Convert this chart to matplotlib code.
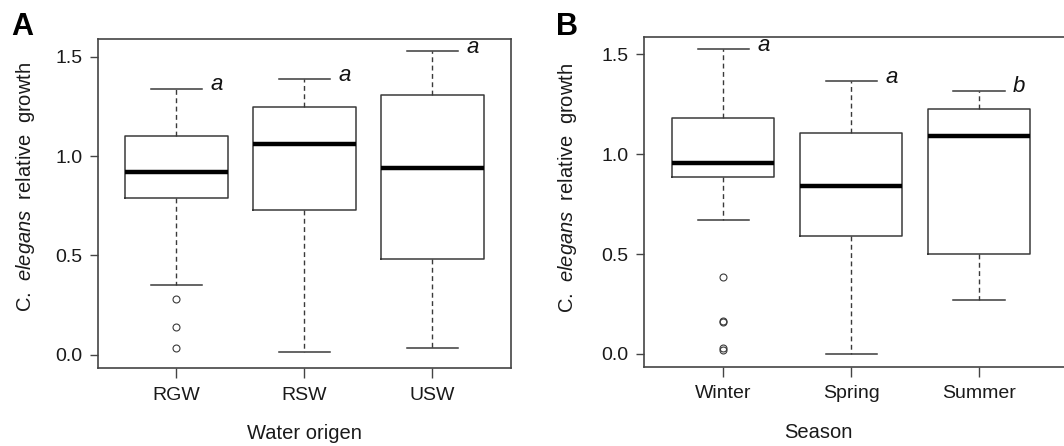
import matplotlib
matplotlib.use('Agg')
import matplotlib.pyplot as plt

plt.rcParams['font.family'] = ['Liberation Sans', 'DejaVu Sans']
plt.rcParams['mathtext.fontset'] = 'custom'
plt.rcParams['mathtext.rm'] = 'Liberation Sans'
plt.rcParams['mathtext.it'] = 'Liberation Sans:italic'

# panel A - water origin
originLabels = ['RGW', 'RSW', 'USW']
originLowWhisker = [0.352, 0.012, 0.035]
originQ1 = [0.787, 0.728, 0.482]
originMedian = [0.921, 1.059, 0.940]
originQ3 = [1.101, 1.248, 1.309]
originHighWhisker = [1.339, 1.386, 1.527]
originOutliers = [[0.282, 0.138, 0.032], [], []]
originLetters = ['a', 'a', 'a']

# panel B - season
seasonLabels = ['Winter', 'Spring', 'Summer']
seasonLowWhisker = [0.669, 0.0, 0.270]
seasonQ1 = [0.888, 0.591, 0.500]
seasonMedian = [0.956, 0.839, 1.090]
seasonQ3 = [1.180, 1.105, 1.228]
seasonHighWhisker = [1.525, 1.365, 1.318]
seasonOutliers = [[0.387, 0.166, 0.158, 0.032, 0.020], [], []]
seasonLetters = ['a', 'a', 'b']

lineGrey = '#3a3a3a'
yLabel = r'C.  $\mathit{elegans}$  relative  growth'


def drawPanel(axis, labels, lo, q1, med, q3, hi, outliers, letters, xlabel):
    stats = []
    for i in range(len(labels)):
        stats.append(dict(label=labels[i], whislo=lo[i], q1=q1[i], med=med[i],
                          q3=q3[i], whishi=hi[i], fliers=outliers[i]))
    axis.bxp(stats, widths=0.8, capwidths=0.4,
             boxprops=dict(color=lineGrey, linewidth=1.1),
             medianprops=dict(color='black', linewidth=3.2, solid_capstyle='butt'),
             whiskerprops=dict(color=lineGrey, linewidth=1.0, linestyle=(0, (3.5, 2.5))),
             capprops=dict(color=lineGrey, linewidth=1.1),
             flierprops=dict(marker='o', markersize=5, markerfacecolor='none',
                             markeredgecolor=lineGrey, markeredgewidth=0.8))
    for i in range(len(labels)):
        axis.annotate(letters[i], xy=(i + 1 + 0.2, hi[i]), xytext=(6, -1),
                      textcoords='offset points', ha='left', va='baseline',
                      fontstyle='italic', fontsize=16, color='#111111')
    axis.set_yticks([0, 0.5, 1.0, 1.5])
    axis.set_yticklabels(['0.0', '0.5', '1.0', '1.5'])
    for spine in axis.spines.values():
        spine.set_color('#444444')
        spine.set_linewidth(1.2)
    axis.tick_params(axis='y', length=6, width=1, pad=5, labelsize=14,
                     color='#444444', labelcolor='#1a1a1a')
    axis.tick_params(axis='x', length=7.5, width=1, pad=6, labelsize=14,
                     color='#444444', labelcolor='#1a1a1a')
    axis.set_ylabel(yLabel, fontsize=14.5, color='#1a1a1a')
    axis.set_xlabel(xlabel, fontsize=14.5, color='#1a1a1a')


fig = plt.figure(figsize=(10.64, 4.46), dpi=100)

axA = fig.add_axes([0.0918, 0.1749, 0.3882, 0.7377])
drawPanel(axA, originLabels, originLowWhisker, originQ1, originMedian, originQ3,
          originHighWhisker, originOutliers, originLetters, 'Water origen')
axA.set_xlim(0.386, 3.612)
axA.set_ylim(-0.067, 1.589)
axA.yaxis.set_label_coords(-0.147, 0.55)
axA.xaxis.set_label_coords(0.5, -0.17)

axB = fig.add_axes([0.605, 0.1778, 0.3969, 0.7399])
drawPanel(axB, seasonLabels, seasonLowWhisker, seasonQ1, seasonMedian, seasonQ3,
          seasonHighWhisker, seasonOutliers, seasonLetters, 'Season')
axB.set_xlim(0.378, 3.68)
axB.set_ylim(-0.0636, 1.588)
axB.yaxis.set_label_coords(-0.153, 0.543)
axB.xaxis.set_label_coords(0.413, -0.17)

fig.text(22 / 1064, 1 - 27 / 446, 'A', ha='center', va='center',
         fontweight='bold', fontsize=22)
fig.text(567 / 1064, 1 - 27 / 446, 'B', ha='center', va='center',
         fontweight='bold', fontsize=22)

fig.savefig('out.png', dpi=100)
